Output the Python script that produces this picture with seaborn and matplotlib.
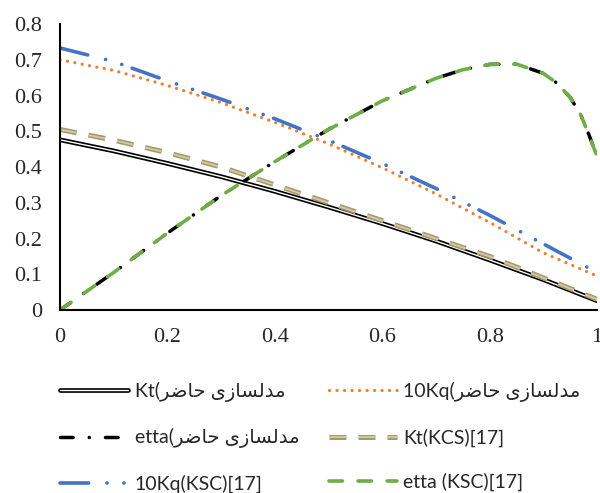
import matplotlib
matplotlib.use('Agg')
import matplotlib.pyplot as plt
import matplotlib.patheffects as pe
import seaborn as sns

# J values (advance ratio) and curves
x_main = [0.0, 0.1, 0.2, 0.3, 0.4, 0.5, 0.6, 0.7, 0.8, 0.9, 1.0]
kt_present = [0.476, 0.445, 0.410, 0.373, 0.332, 0.288, 0.242, 0.193, 0.140, 0.085, 0.026]
kq10_present = [0.700, 0.670, 0.628, 0.580, 0.525, 0.465, 0.398, 0.325, 0.245, 0.160, 0.095]
kt_kcs = [0.505, 0.475, 0.440, 0.400, 0.350, 0.300, 0.250, 0.200, 0.150, 0.090, 0.030]
kq10_ksc = [0.733, 0.695, 0.641, 0.590, 0.535, 0.475, 0.410, 0.340, 0.265, 0.185, 0.105]

x_etta = [0.0, 0.1, 0.2, 0.3, 0.4, 0.5, 0.6, 0.7, 0.75, 0.8, 0.85, 0.9, 0.925, 0.95, 0.97, 0.985, 1.0]
etta_present = [0.0, 0.105, 0.215, 0.320, 0.415, 0.505, 0.585, 0.648, 0.672, 0.687, 0.688, 0.662, 0.635, 0.595, 0.545, 0.490, 0.430]
etta_ksc = [0.0, 0.105, 0.215, 0.320, 0.415, 0.505, 0.585, 0.648, 0.672, 0.687, 0.688, 0.662, 0.635, 0.595, 0.545, 0.490, 0.430]

x_ticks = [0, 0.2, 0.4, 0.6, 0.8, 1.0]
x_tick_labels = ['0', '0.2', '0.4', '0.6', '0.8', '1']
y_ticks = [0, 0.1, 0.2, 0.3, 0.4, 0.5, 0.6, 0.7, 0.8]
y_tick_labels = ['0', '0.1', '0.2', '0.3', '0.4', '0.5', '0.6', '0.7', '0.8']

# "مدلسازی حاضر" in presentation forms, visual (left-to-right) order
persian = '\uFEAE\uFEBF\uFE8E\uFEA3 \uFBFC\uFEAF\uFE8E\uFEB4\uFEDF\uFEAA\uFEE3'
labels = ['Kt(' + persian, '10Kq(' + persian, 'etta(' + persian,
          'Kt(KCS)[17]', '10Kq(KSC)[17]', 'etta (KSC)[17]']

sns.set_style('white')
plt.rcParams['lines.scale_dashes'] = False
plt.rcParams['font.family'] = ['Liberation Serif', 'DejaVu Serif']

fig = plt.figure(figsize=(6, 4.93), dpi=100)
ax = fig.add_axes([0.1, 0.3712, 0.895, 0.5801])

sns.lineplot(x=x_main, y=kt_present, ax=ax, color='white', lw=1.0,
             path_effects=[pe.Stroke(linewidth=3.4, foreground='black'), pe.Normal()],
             label=labels[0])
sns.lineplot(x=x_main, y=kq10_present, ax=ax, color='#ED7D31', lw=2.3,
             linestyle=(0, (0.1, 5.3)), dash_capstyle='round', label=labels[1])
sns.lineplot(x=x_etta, y=etta_present, ax=ax, color='black', lw=2.5,
             linestyle=(0, (9.1, 11.6, 0.1, 11.6)), dash_capstyle='round', label=labels[2])
sns.lineplot(x=x_main, y=kt_kcs, ax=ax, color='#D3CBA8', lw=1.3,
             linestyle=(0, (12.2, 8.7)),
             path_effects=[pe.Stroke(linewidth=3.6, foreground='#A39A6C'), pe.Normal()],
             label=labels[3])
sns.lineplot(x=x_main, y=kq10_ksc, ax=ax, color='#4472C4', lw=2.6,
             linestyle=(0, (20.6, 13.2, 0.1, 12.1, 0.1, 7.9)), dash_capstyle='round',
             label=labels[4])
sns.lineplot(x=x_etta, y=etta_ksc, ax=ax, color='#70AD47', lw=2.6,
             linestyle=(0, (9.7, 11.2)), dash_capstyle='round', label=labels[5])

ax.set_xlim(0, 1)
ax.set_ylim(0, 0.8)
ax.set_xticks(x_ticks)
ax.set_xticklabels(x_tick_labels)
ax.set_yticks(y_ticks)
ax.set_yticklabels(y_tick_labels)
ax.tick_params(length=0, pad=13, labelsize=16)
for side in ['top', 'right']:
    ax.spines[side].set_visible(False)
for side in ['left', 'bottom']:
    ax.spines[side].set_color('black')
    ax.spines[side].set_linewidth(1.5)

lines = ax.get_lines()
order = [0, 2, 4, 1, 3, 5]
ax.legend([lines[i] for i in order], [labels[i] for i in order],
          ncol=2, frameon=False, loc='upper left',
          bbox_to_anchor=(0.1, 0.225), bbox_transform=fig.transFigure,
          borderaxespad=0, borderpad=0, handlelength=3.5, handletextpad=0.35,
          columnspacing=1.5, labelspacing=1.35,
          prop={'family': ['Lato', 'DejaVu Sans'], 'size': 14})

fig.savefig('out.png', dpi=100)
